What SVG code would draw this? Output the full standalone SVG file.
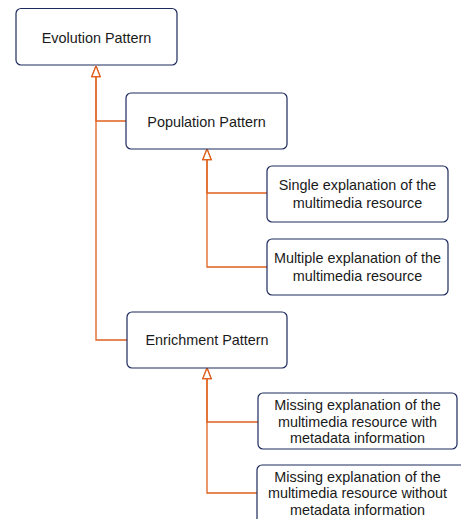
<svg xmlns="http://www.w3.org/2000/svg" width="461" height="519" viewBox="0 0 461 519">
<style>
.box{fill:#fff;stroke:#1d2a5e;stroke-width:1.2}
.lbl{font-family:"Liberation Sans",Arial,sans-serif;font-size:14.4px;fill:#1a1a1a;text-anchor:middle}
.con{fill:none;stroke:#e0601e;stroke-width:1.3}
</style>
<defs>
<marker id="tri" viewBox="0 0 12 10" markerWidth="12" markerHeight="10" refX="11.5" refY="5" orient="auto" markerUnits="userSpaceOnUse">
<path d="M0.8,0.8 L11.5,5 L0.8,9.2 Z" fill="#fff" stroke="#e0601e" stroke-width="1.3"/>
</marker>
</defs>
<rect width="461" height="519" fill="#fff"/>
<g id="connectors">
<path class="con" d="M126,121 H96 V66" marker-end="url(#tri)"/>
<path class="con" d="M127,340 H96 V66" marker-end="url(#tri)"/>
<path class="con" d="M267,193 H207 V149" marker-end="url(#tri)"/>
<path class="con" d="M267,267 H207 V149" marker-end="url(#tri)"/>
<path class="con" d="M258,422 H207 V368" marker-end="url(#tri)"/>
<path class="con" d="M257,493 H207 V368" marker-end="url(#tri)"/>
</g>
<g id="evolution">
<rect class="box" x="16" y="8.5" width="161" height="56.5" rx="5"/>
<text class="lbl" x="96.5" y="43">Evolution Pattern</text>
</g>
<g id="population">
<rect class="box" x="126" y="93" width="161" height="56" rx="5"/>
<text class="lbl" x="206.5" y="127">Population Pattern</text>
</g>
<g id="single">
<rect class="box" x="267" y="166" width="181" height="56" rx="5"/>
<text class="lbl" x="357.5" y="190">Single explanation of the</text>
<text class="lbl" x="357.5" y="208">multimedia resource</text>
</g>
<g id="multiple">
<rect class="box" x="267" y="239" width="181" height="56" rx="5"/>
<text class="lbl" x="357.5" y="263">Multiple explanation of the</text>
<text class="lbl" x="357.5" y="281">multimedia resource</text>
</g>
<g id="enrichment">
<rect class="box" x="127" y="312" width="160" height="56" rx="5"/>
<text class="lbl" x="207" y="345">Enrichment Pattern</text>
</g>
<g id="missing-with">
<rect class="box" x="258" y="393" width="199" height="56" rx="5"/>
<text class="lbl" x="357.5" y="410">Missing explanation of the</text>
<text class="lbl" x="357.5" y="427">multimedia resource with</text>
<text class="lbl" x="357.5" y="443">metadata information</text>
</g>
<g id="missing-without">
<rect class="box" x="257" y="465" width="210" height="70" rx="5"/>
<text class="lbl" x="357.5" y="482">Missing explanation of the</text>
<text class="lbl" x="357.5" y="498">multimedia resource without</text>
<text class="lbl" x="357.5" y="515">metadata information</text>
</g>
</svg>
